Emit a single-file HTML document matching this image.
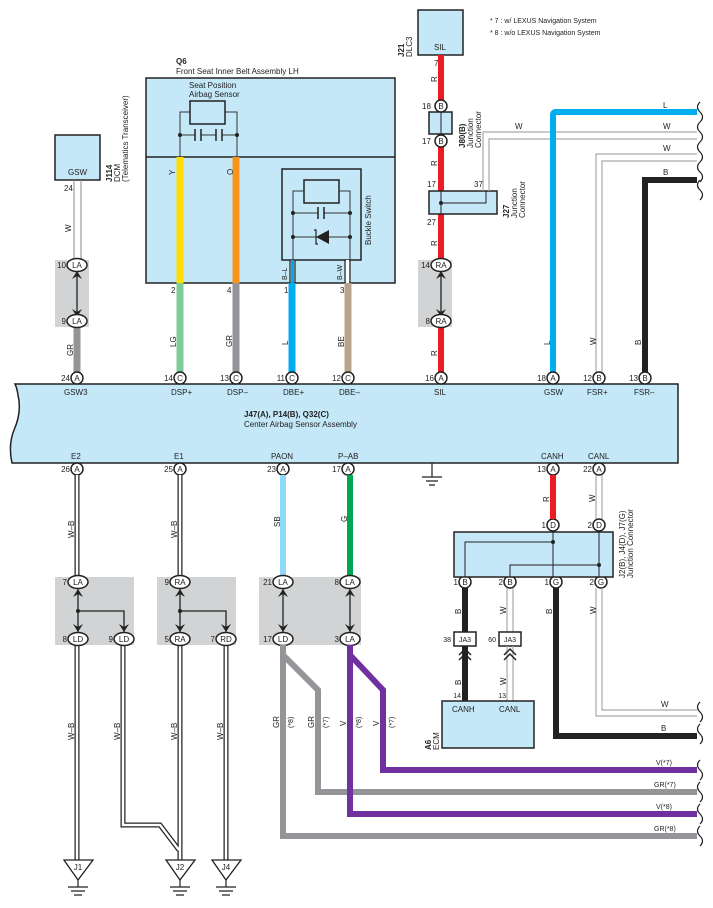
<!DOCTYPE html>
<html><head><meta charset="utf-8">
<style>
html,body{margin:0;padding:0;background:#fff;}
svg{display:block;}
text{font-family:"Liberation Sans",sans-serif;font-size:8px;fill:#222;}
.s{font-size:7px;}
.b{font-weight:bold;}
</style></head><body>
<svg width="713" height="908" viewBox="0 0 713 908" xmlns="http://www.w3.org/2000/svg">
<defs>
<g id="wave"><path d="M0,0 q-5,5 0,10 q5,5 0,10" fill="none" stroke="#222" stroke-width="1.2"/></g>
</defs>

<text x="490" y="23" class="s">* 7 : w/ LEXUS Navigation System</text>
<text x="490" y="35" class="s">* 8 : w/o LEXUS Navigation System</text>

<text x="176" y="64" class="b">Q6</text>
<text x="176" y="74">Front Seat Inner Belt Assembly LH</text>
<rect x="146" y="78" width="249" height="205" fill="#c5e8f8" stroke="#222" stroke-width="1.5"/>
<line x1="146" y1="157" x2="395" y2="157" stroke="#222" stroke-width="1.5"/>
<text x="189" y="88">Seat Position</text>
<text x="189" y="97">Airbag Sensor</text>
<rect x="190" y="101" width="35" height="23" fill="none" stroke="#222" stroke-width="1.5"/>
<path d="M180,157 V112 H190 M225,112 H237 V157 M180,135 H195 M201,135 H216 M222,135 H237" fill="none" stroke="#333" stroke-width="1"/>
<path d="M195,129 v12 M201,129 v12 M216,129 v12 M222,129 v12" stroke="#222" stroke-width="1.5"/>
<circle cx="180" cy="135" r="2" fill="#222"/><circle cx="237" cy="135" r="2" fill="#222"/>
<rect x="282" y="169" width="79" height="91" fill="none" stroke="#222" stroke-width="1.5"/>
<rect x="304" y="180" width="35" height="23" fill="none" stroke="#222" stroke-width="1.5"/>
<path d="M293,260 V191 H304 M339,191 H350 V260 M293,213 H318 M324,213 H350 M293,237 H350" fill="none" stroke="#333" stroke-width="1"/>
<path d="M318,207 v12 M324,207 v12" stroke="#222" stroke-width="1.5"/>
<path d="M329,230 L329,244 L316,237 Z" fill="#222"/><path d="M314,230 l2,0 v14 l2,0" fill="none" stroke="#222" stroke-width="1.2"/>
<circle cx="293" cy="213" r="2" fill="#222"/><circle cx="350" cy="213" r="2" fill="#222"/><circle cx="293" cy="237" r="2" fill="#222"/><circle cx="350" cy="237" r="2" fill="#222"/>
<text transform="translate(371,245) rotate(-90)">Buckle Switch</text>

<line x1="180" y1="157" x2="180" y2="283" stroke="#ffdd00" stroke-width="7"/>
<line x1="236" y1="157" x2="236" y2="283" stroke="#f7941d" stroke-width="7"/>
<text transform="translate(175,175) rotate(-90)">Y</text>
<text transform="translate(233,175) rotate(-90)">O</text>
<path d="M290,260 V283 M295,260 V283 M345,260 V283 M350,260 V283" stroke="#222" stroke-width="1.2"/>
<line x1="292.5" y1="260" x2="292.5" y2="283" stroke="#00aeef" stroke-width="3"/>
<line x1="347.5" y1="260" x2="347.5" y2="283" stroke="#fff" stroke-width="3"/>
<text transform="translate(287,280) rotate(-90)" class="s">B–L</text>
<text transform="translate(342,280) rotate(-90)" class="s">B–W</text>
<line x1="180" y1="283" x2="180" y2="372" stroke="#80cc99" stroke-width="7"/>
<line x1="236" y1="283" x2="236" y2="372" stroke="#939598" stroke-width="7"/>
<line x1="292" y1="283" x2="292" y2="372" stroke="#00aeef" stroke-width="7"/>
<line x1="348" y1="283" x2="348" y2="372" stroke="#b8a48c" stroke-width="7"/>
<text x="171" y="293">2</text><text x="227" y="293">4</text><text x="284" y="293">1</text><text x="340" y="293">3</text>
<text transform="translate(176,347) rotate(-90)">LG</text>
<text transform="translate(232,347) rotate(-90)">GR</text>
<text transform="translate(288,345) rotate(-90)">L</text>
<text transform="translate(344,347) rotate(-90)">BE</text>

<rect x="55" y="135" width="45" height="45" fill="#c5e8f8" stroke="#222" stroke-width="1.5"/>
<text x="68" y="175">GSW</text>
<text transform="translate(112,182) rotate(-90)" class="b">J114</text>
<text transform="translate(120,182) rotate(-90)">DCM</text>
<text transform="translate(128,182) rotate(-90)">(Telematics Transceiver)</text>
<text x="64" y="191">24</text>
<path d="M74,180 V262 M81,180 V262" stroke="#888" stroke-width="1"/>
<text transform="translate(71,232) rotate(-90)">W</text>
<rect x="55" y="260" width="34" height="67" fill="#d1d3d4"/>
<line x1="77" y1="327" x2="77" y2="372" stroke="#939598" stroke-width="7"/>
<text transform="translate(73,356) rotate(-90)">GR</text>

<rect x="418" y="10" width="45" height="45" fill="#c5e8f8" stroke="#222" stroke-width="1.5"/>
<text x="434" y="50">SIL</text>
<text transform="translate(404,57) rotate(-90)" class="b">J21</text>
<text transform="translate(412,57) rotate(-90)">DLC3</text>
<line x1="441" y1="55" x2="441" y2="372" stroke="#ed1c24" stroke-width="6"/>
<text x="434" y="66">7</text>
<text transform="translate(437,82) rotate(-90)">R</text>
<text transform="translate(437,166) rotate(-90)">R</text>
<text transform="translate(437,246) rotate(-90)">R</text>
<text transform="translate(437,356) rotate(-90)">R</text>
<rect x="429" y="112" width="23" height="22" fill="#c5e8f8" stroke="#222" stroke-width="1.5"/>
<line x1="441" y1="112" x2="441" y2="134" stroke="#222" stroke-width="1"/>
<text transform="translate(465,148) rotate(-90)" class="b">J80(B)</text>
<text transform="translate(473,148) rotate(-90)">Junction</text>
<text transform="translate(481,148) rotate(-90)">Connector</text>
<text x="422" y="109">18</text><text x="422" y="144">17</text>
<rect x="429" y="191" width="68" height="23" fill="#c5e8f8" stroke="#222" stroke-width="1.5"/>
<path d="M441,191 V214 M441,203 H486 V191" fill="none" stroke="#222" stroke-width="1"/>
<circle cx="441" cy="203" r="2" fill="#222"/>
<text x="427" y="187">17</text><text x="427" y="225">27</text><text x="474" y="187">37</text>
<text transform="translate(509,218) rotate(-90)" class="b">J27</text>
<text transform="translate(517,218) rotate(-90)">Junction</text>
<text transform="translate(525,218) rotate(-90)">Connector</text>
<path d="M483,191 V132 H697 M489,191 V139 H697" fill="none" stroke="#aaa" stroke-width="1.2"/>
<text x="515" y="129">W</text><text x="663" y="129">W</text>
<rect x="418" y="260" width="34" height="67" fill="#d1d3d4"/>
<line x1="441" y1="260" x2="441" y2="327" stroke="#d1d3d4" stroke-width="6"/>

<path d="M553,372 V115 Q553,112 556,112 H697" fill="none" stroke="#00aeef" stroke-width="6"/>
<text x="663" y="108">L</text>
<path d="M596,372 V154 H697 M602,372 V161 H697" fill="none" stroke="#aaa" stroke-width="1.2"/>
<text x="663" y="151">W</text>
<path d="M645,372 V180 H697" fill="none" stroke="#222" stroke-width="6"/>
<text x="663" y="175">B</text>
<text transform="translate(550,345) rotate(-90)">L</text>
<text transform="translate(596,345) rotate(-90)">W</text>
<text transform="translate(641,345) rotate(-90)">B</text>
<use href="#wave" x="700" y="102"/><use href="#wave" x="700" y="122"/><use href="#wave" x="700" y="142"/><use href="#wave" x="700" y="162"/><use href="#wave" x="700" y="180"/>

<path d="M15,384 H678 V463 H12 Q8,445 14,430 Q22,412 18,395 Q17,388 15,384 Z" fill="#c5e8f8" stroke="#222" stroke-width="1.5"/>
<text x="244" y="417" class="b">J47(A), P14(B), Q32(C)</text>
<text x="244" y="427">Center Airbag Sensor Assembly</text>
<text x="64" y="395">GSW3</text><text x="171" y="395">DSP+</text><text x="227" y="395">DSP–</text><text x="283" y="395">DBE+</text><text x="339" y="395">DBE–</text>
<text x="434" y="395">SIL</text><text x="544" y="395">GSW</text><text x="587" y="395">FSR+</text><text x="634" y="395">FSR–</text>
<text x="71" y="459">E2</text><text x="174" y="459">E1</text><text x="271" y="459">PAON</text><text x="338" y="459">P–AB</text><text x="541" y="459">CANH</text><text x="588" y="459">CANL</text>
<path d="M432,463 V477 M422,477 H442 M426,481 H438 M429,485 H435" stroke="#222" stroke-width="1.2"/>

<g stroke="#222" stroke-width="1.5" fill="#fff">
<circle cx="77" cy="378" r="6"/><circle cx="180" cy="378" r="6"/><circle cx="236" cy="378" r="6"/><circle cx="292" cy="378" r="6"/><circle cx="348" cy="378" r="6"/><circle cx="441" cy="378" r="6"/><circle cx="553" cy="378" r="6"/><circle cx="599" cy="378" r="6"/><circle cx="645" cy="378" r="6"/>
<circle cx="77" cy="469" r="6"/><circle cx="180" cy="469" r="6"/><circle cx="283" cy="469" r="6"/><circle cx="348" cy="469" r="6"/><circle cx="553" cy="469" r="6"/><circle cx="599" cy="469" r="6"/>
<circle cx="441" cy="106" r="6"/><circle cx="441" cy="141" r="6"/>
<circle cx="553" cy="525" r="6"/><circle cx="599" cy="525" r="6"/>
<circle cx="465" cy="582" r="6"/><circle cx="510" cy="582" r="6"/><circle cx="556" cy="582" r="6"/><circle cx="601" cy="582" r="6"/>
</g>
<g class="s" text-anchor="middle">
<text x="77" y="381">A</text><text x="180" y="381">C</text><text x="236" y="381">C</text><text x="292" y="381">C</text><text x="348" y="381">C</text><text x="441" y="381">A</text><text x="553" y="381">A</text><text x="599" y="381">B</text><text x="645" y="381">B</text>
<text x="77" y="472">A</text><text x="180" y="472">A</text><text x="283" y="472">A</text><text x="348" y="472">A</text><text x="553" y="472">A</text><text x="599" y="472">A</text>
<text x="441" y="109">B</text><text x="441" y="144">B</text>
<text x="553" y="528">D</text><text x="599" y="528">D</text>
<text x="465" y="585">B</text><text x="510" y="585">B</text><text x="556" y="585">G</text><text x="601" y="585">G</text>
</g>
<g class="s" text-anchor="end">
<text x="70" y="381">24</text><text x="173" y="381">14</text><text x="229" y="381">13</text><text x="285" y="381">11</text><text x="341" y="381">12</text><text x="434" y="381">16</text><text x="546" y="381">18</text><text x="592" y="381">12</text><text x="638" y="381">13</text>
<text x="70" y="472">26</text><text x="173" y="472">25</text><text x="276" y="472">23</text><text x="341" y="472">17</text><text x="546" y="472">13</text><text x="592" y="472">22</text>
<text x="546" y="528">1</text><text x="592" y="528">2</text>
<text x="458" y="585">1</text><text x="503" y="585">2</text><text x="549" y="585">1</text><text x="594" y="585">2</text>
</g>

<g fill="none">
<path d="M77,475 V860 M180,475 V860 M226,639 V860 M123,645 V825 H160 L179,850" stroke="#222" stroke-width="5"/>
<path d="M77,475 V860 M180,475 V860 M226,639 V860 M123,645 V825 H160 L179,850" stroke="#fff" stroke-width="2.5"/>
</g>
<text transform="translate(74,538) rotate(-90)">W–B</text>
<text transform="translate(177,538) rotate(-90)">W–B</text>
<text transform="translate(74,740) rotate(-90)">W–B</text>
<text transform="translate(120,740) rotate(-90)">W–B</text>
<text transform="translate(177,740) rotate(-90)">W–B</text>
<text transform="translate(223,740) rotate(-90)">W–B</text>
<line x1="283" y1="475" x2="283" y2="577" stroke="#8ed8f8" stroke-width="6"/>
<line x1="350" y1="475" x2="350" y2="577" stroke="#00a651" stroke-width="6"/>
<text transform="translate(280,527) rotate(-90)">SB</text>
<text transform="translate(347,522) rotate(-90)">G</text>

<rect x="55" y="577" width="79" height="68" fill="#d1d3d4"/>
<rect x="157" y="577" width="79" height="68" fill="#d1d3d4"/>
<rect x="259" y="577" width="102" height="68" fill="#d1d3d4"/>
<g stroke="#222" stroke-width="1.3" fill="none">
<path d="M78,588 V633 M78,611 H124 V633 M180,588 V633 M180,611 H226 V633 M283,588 V633 M350,588 V633"/>
<path d="M77,325 V267 M441,325 V267"/>
</g>
<g fill="#222">
<circle cx="78" cy="611" r="2"/><circle cx="180" cy="611" r="2"/>
<path d="M73,597 l5,-8 l5,8 l-5,-3z M73,624 l5,8 l5,-8 l-5,3z M119,624 l5,8 l5,-8 l-5,3z"/>
<path d="M175,597 l5,-8 l5,8 l-5,-3z M175,624 l5,8 l5,-8 l-5,3z M221,624 l5,8 l5,-8 l-5,3z"/>
<path d="M278,597 l5,-8 l5,8 l-5,-3z M278,624 l5,8 l5,-8 l-5,3z M345,597 l5,-8 l5,8 l-5,-3z M345,624 l5,8 l5,-8 l-5,3z"/>
<path d="M72,279 l5,-8 l5,8 l-5,-3z M72,309 l5,8 l5,-8 l-5,3z M436,279 l5,-8 l5,8 l-5,-3z M436,309 l5,8 l5,-8 l-5,3z"/>
</g>
<g stroke="#222" stroke-width="1.5" fill="#fff">
<ellipse cx="78" cy="582" rx="10" ry="6.5"/><ellipse cx="78" cy="639" rx="10" ry="6.5"/><ellipse cx="124" cy="639" rx="10" ry="6.5"/>
<ellipse cx="180" cy="582" rx="10" ry="6.5"/><ellipse cx="180" cy="639" rx="10" ry="6.5"/><ellipse cx="226" cy="639" rx="10" ry="6.5"/>
<ellipse cx="283" cy="582" rx="10" ry="6.5"/><ellipse cx="283" cy="639" rx="10" ry="6.5"/><ellipse cx="350" cy="582" rx="10" ry="6.5"/><ellipse cx="350" cy="639" rx="10" ry="6.5"/>
<ellipse cx="77" cy="265" rx="10" ry="6.5"/><ellipse cx="77" cy="321" rx="10" ry="6.5"/><ellipse cx="441" cy="265" rx="10" ry="6.5"/><ellipse cx="441" cy="321" rx="10" ry="6.5"/>
</g>
<g class="s" text-anchor="middle">
<text x="78" y="585">LA</text><text x="78" y="642">LD</text><text x="124" y="642">LD</text>
<text x="180" y="585">RA</text><text x="180" y="642">RA</text><text x="226" y="642">RD</text>
<text x="283" y="585">LA</text><text x="283" y="642">LD</text><text x="350" y="585">LA</text><text x="350" y="642">LA</text>
<text x="77" y="268">LA</text><text x="77" y="324">LA</text><text x="441" y="268">RA</text><text x="441" y="324">RA</text>
</g>
<g class="s" text-anchor="end">
<text x="67" y="585">7</text><text x="67" y="642">8</text><text x="113" y="642">9</text>
<text x="169" y="585">9</text><text x="169" y="642">5</text><text x="215" y="642">7</text>
<text x="272" y="585">21</text><text x="272" y="642">17</text><text x="339" y="585">8</text><text x="339" y="642">3</text>
<text x="66" y="268">10</text><text x="66" y="324">9</text><text x="430" y="268">14</text><text x="430" y="324">8</text>
</g>

<g fill="none" stroke-width="6">
<path d="M283,645 V836 H697" stroke="#939598"/>
<path d="M283,655 L318,690 V792 H697" stroke="#939598"/>
<path d="M350,645 V814 H697" stroke="#7030a0"/>
<path d="M350,655 L383,690 V770 H697" stroke="#7030a0"/>
</g>
<text transform="translate(279,728) rotate(-90)">GR</text><text transform="translate(293,728) rotate(-90)" class="s">(*8)</text>
<text transform="translate(314,728) rotate(-90)">GR</text><text transform="translate(328,728) rotate(-90)" class="s">(*7)</text>
<text transform="translate(346,726) rotate(-90)">V</text><text transform="translate(361,728) rotate(-90)" class="s">(*8)</text>
<text transform="translate(379,726) rotate(-90)">V</text><text transform="translate(394,728) rotate(-90)" class="s">(*7)</text>
<text x="656" y="765" class="s">V(*7)</text><text x="654" y="787" class="s">GR(*7)</text><text x="656" y="809" class="s">V(*8)</text><text x="654" y="831" class="s">GR(*8)</text>
<use href="#wave" x="700" y="760"/><use href="#wave" x="700" y="782"/><use href="#wave" x="700" y="804"/><use href="#wave" x="700" y="826"/>

<g stroke="#222" stroke-width="1.3" fill="#fff">
<path d="M64,860 H93 L78,880 Z"/><path d="M166,860 H195 L180,880 Z"/><path d="M212,860 H241 L226,880 Z"/>
</g>
<g class="s" text-anchor="middle"><text x="78" y="870">J1</text><text x="180" y="870">J2</text><text x="226" y="870">J4</text></g>
<path d="M78,880 V887 M68,887 H88 M71,891 H85 M74,895 H82 M180,880 V887 M170,887 H190 M173,891 H187 M176,895 H184 M226,880 V887 M216,887 H236 M219,891 H233 M222,895 H230" stroke="#222" stroke-width="1.2"/>

<line x1="553" y1="475" x2="553" y2="519" stroke="#ed1c24" stroke-width="6"/>
<path d="M596,475 V519 M602,475 V519" stroke="#aaa" stroke-width="1.2"/>
<text transform="translate(549,502) rotate(-90)">R</text>
<text transform="translate(595,502) rotate(-90)">W</text>
<rect x="454" y="532" width="159" height="45" fill="#c5e8f8" stroke="#222" stroke-width="1.5"/>
<path d="M553,531 V577 M465,577 V542 H553 M599,531 V577 M510,577 V565 H599" fill="none" stroke="#222" stroke-width="1"/>
<circle cx="553" cy="542" r="2" fill="#222"/><circle cx="599" cy="565" r="2" fill="#222"/>
<text transform="translate(625,578) rotate(-90)">J2(B), J4(D), J7(G)</text>
<text transform="translate(633,578) rotate(-90)">Junction Connector</text>
<line x1="465" y1="588" x2="465" y2="632" stroke="#222" stroke-width="6"/>
<path d="M507,588 V632 M513,588 V632" stroke="#aaa" stroke-width="1.2"/>
<text transform="translate(461,614) rotate(-90)">B</text>
<text transform="translate(506,614) rotate(-90)">W</text>
<path d="M556,588 V736 H697" fill="none" stroke="#222" stroke-width="6"/>
<path d="M596,588 V716 H697 M602,588 V710 H697" fill="none" stroke="#aaa" stroke-width="1.2"/>
<text transform="translate(552,614) rotate(-90)">B</text>
<text transform="translate(596,614) rotate(-90)">W</text>
<text x="661" y="707">W</text><text x="661" y="731">B</text>
<use href="#wave" x="700" y="702"/><use href="#wave" x="700" y="724"/>
<rect x="454" y="632" width="22" height="14" fill="#fff" stroke="#222" stroke-width="1.5"/>
<rect x="499" y="632" width="22" height="14" fill="#fff" stroke="#222" stroke-width="1.5"/>
<text x="465" y="642" class="s" text-anchor="middle">JA3</text><text x="510" y="642" class="s" text-anchor="middle">JA3</text>
<text x="451" y="642" class="s" text-anchor="end">38</text><text x="496" y="642" class="s" text-anchor="end">60</text>
<line x1="465" y1="646" x2="465" y2="701" stroke="#222" stroke-width="6"/>
<path d="M507,646 V701 M513,646 V701" stroke="#aaa" stroke-width="1.2"/>
<path d="M459,655 l6,-6 l6,6 M459,660 l6,-6 l6,6 M504,655 l6,-6 l6,6 M504,660 l6,-6 l6,6" fill="none" stroke="#222" stroke-width="1.5"/>
<text transform="translate(461,685) rotate(-90)">B</text>
<text transform="translate(506,685) rotate(-90)">W</text>
<text x="461" y="698" class="s" text-anchor="end">14</text><text x="506" y="698" class="s" text-anchor="end">13</text>
<rect x="442" y="701" width="92" height="47" fill="#c5e8f8" stroke="#222" stroke-width="1.5"/>
<text x="452" y="712">CANH</text><text x="499" y="712">CANL</text>
<text transform="translate(431,750) rotate(-90)" class="b">A6</text>
<text transform="translate(439,750) rotate(-90)">ECM</text>
</svg>
</body></html>
